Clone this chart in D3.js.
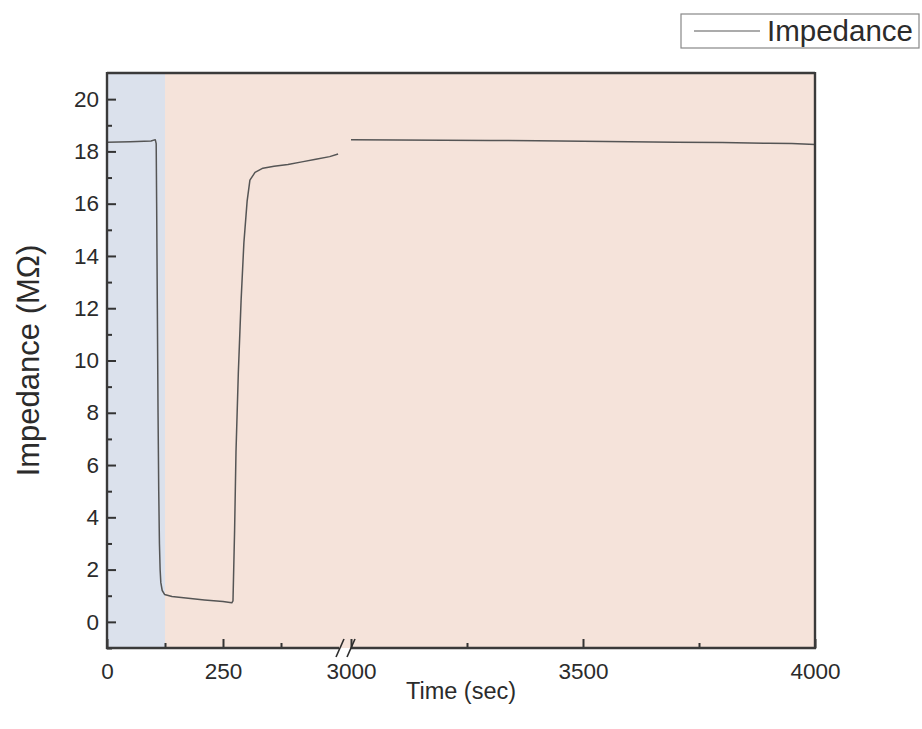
<!DOCTYPE html>
<html>
<head>
<meta charset="utf-8">
<script src="https://cdn.jsdelivr.net/npm/d3@7/dist/d3.min.js"></script>
<style>
  html, body { margin: 0; padding: 0; background: #fff; }
  svg text { font-family: "Liberation Sans", Arial, sans-serif; fill: #2b2b2b; }
</style>
</head>
<body>
<svg id="chart" width="922" height="729"></svg>
<script>
// Impedance over time; the time axis is broken between 500 s and 3000 s.
const earlyTime = [0, 50, 95, 104, 106, 107, 108.5, 110, 111.5, 113, 114.5, 116, 119, 124, 140, 175, 210, 250, 265, 269, 271.5, 275, 278, 283, 289, 295, 302, 308, 319, 336, 360, 390, 420, 450, 480, 498];
const earlyImpedance = [18.35, 18.37, 18.4, 18.45, 18.3, 16, 12, 8, 5, 3, 2, 1.5, 1.2, 1.05, 0.97, 0.9, 0.84, 0.78, 0.74, 0.73, 0.8, 3.5, 6.5, 9.5, 12.3, 14.5, 16.1, 16.9, 17.2, 17.36, 17.43, 17.5, 17.6, 17.7, 17.8, 17.9];
const lateTime = [3000, 3100, 3200, 3300, 3400, 3500, 3600, 3700, 3800, 3900, 3950, 4000];
const lateImpedance = [18.45, 18.44, 18.43, 18.42, 18.41, 18.39, 18.37, 18.35, 18.34, 18.31, 18.3, 18.26];

const segmentDomains = [[0, 500], [3000, 4000]];
const majorTicks = [[0, 250], [3000, 3500, 4000]];
const minorTicks = [[125, 375], [3250, 3750]];
const yMajorTicks = [0, 2, 4, 6, 8, 10, 12, 14, 16, 18, 20];
const yMinorTicks = [-1, 1, 3, 5, 7, 9, 11, 13, 15, 17, 19];
const phaseBoundary = 125;   // end of the first (blue) phase, seconds
const yDomain = [-1, 21];

const plotLeft = 107, plotRight = 815, plotTop = 73, plotBottom = 648;
const gapLeft = 339, gapRight = 351;

const svg = d3.select("#chart");

const xA = d3.scaleLinear().domain(segmentDomains[0]).range([plotLeft, gapLeft]);
const xB = d3.scaleLinear().domain(segmentDomains[1]).range([gapRight, plotRight]);
const xPos = t => (t <= segmentDomains[0][1] ? xA(t) : xB(t));
const y = d3.scaleLinear().domain(yDomain).range([plotBottom, plotTop]);

// phase backgrounds
svg.append("rect")
  .attr("x", xA(0)).attr("y", plotTop)
  .attr("width", xA(phaseBoundary) - xA(0)).attr("height", plotBottom - plotTop)
  .attr("fill", "#dbe1ec");
svg.append("rect")
  .attr("x", xA(phaseBoundary)).attr("y", plotTop)
  .attr("width", plotRight - xA(phaseBoundary)).attr("height", plotBottom - plotTop)
  .attr("fill", "#f5e3da");

// data, one path per axis segment
const early = earlyTime.map((t, i) => [t, earlyImpedance[i]]);
const late = lateTime.map((t, i) => [t, lateImpedance[i]]);
const line = d3.line().x(d => xPos(d[0])).y(d => y(d[1]));
[early, late].forEach(series => {
  svg.append("path").datum(series)
    .attr("d", line)
    .attr("fill", "none").attr("stroke", "#555").attr("stroke-width", 1.5)
    .attr("stroke-linejoin", "round");
});

// y axis (ticks pointing inward)
svg.append("g").attr("transform", `translate(${plotLeft},0)`)
  .call(d3.axisLeft(y).tickValues(yMajorTicks).tickSize(-9).tickPadding(8));
svg.append("g").attr("transform", `translate(${plotLeft},0)`)
  .call(d3.axisLeft(y).tickValues(yMinorTicks).tickSize(-5).tickFormat(""));

// x axis segments
[xA, xB].forEach((sc, i) => {
  svg.append("g").attr("transform", `translate(0,${plotBottom})`)
    .call(d3.axisBottom(sc).tickValues(majorTicks[i]).tickSize(-9).tickPadding(15).tickFormat(d3.format("d")));
  svg.append("g").attr("transform", `translate(0,${plotBottom})`)
    .call(d3.axisBottom(sc).tickValues(minorTicks[i]).tickSize(-5).tickFormat(""));
});

svg.selectAll(".domain").remove();
svg.selectAll(".tick line").attr("stroke", "#333").attr("stroke-width", 2);
svg.selectAll(".tick text").attr("font-size", 22.5).attr("fill", "#2b2b2b")
  .style("font-family", '"Liberation Sans", Arial, sans-serif');

// frame
const frame = svg.append("g").attr("stroke", "#3a3a3a").attr("stroke-width", 2.4).attr("fill", "none");
frame.append("line").attr("x1", plotLeft).attr("x2", plotLeft).attr("y1", plotTop - 1).attr("y2", plotBottom + 1);
frame.append("line").attr("x1", plotRight).attr("x2", plotRight).attr("y1", plotTop - 1).attr("y2", plotBottom + 1);
frame.append("line").attr("x1", plotLeft).attr("x2", plotRight).attr("y1", plotTop).attr("y2", plotTop);
frame.append("line").attr("x1", plotLeft - 1).attr("x2", gapLeft).attr("y1", plotBottom).attr("y2", plotBottom);
frame.append("line").attr("x1", gapRight).attr("x2", plotRight + 1).attr("y1", plotBottom).attr("y2", plotBottom);

// axis break marks
[gapLeft + 1, gapRight].forEach(cx => {
  svg.append("line")
    .attr("x1", cx - 4).attr("y1", plotBottom + 9).attr("x2", cx + 4).attr("y2", plotBottom - 9)
    .attr("stroke", "#2b2b2b").attr("stroke-width", 1.6);
});

// axis titles
svg.append("text").attr("x", (plotLeft + plotRight) / 2).attr("y", 699)
  .attr("text-anchor", "middle").attr("font-size", 23.5).text("Time (sec)");
svg.append("text").attr("transform", `translate(39,${(plotTop + plotBottom) / 2}) rotate(-90)`)
  .attr("text-anchor", "middle").attr("font-size", 31).text("Impedance (MΩ)");

// legend
const lg = svg.append("g");
lg.append("rect").attr("x", 681).attr("y", 14).attr("width", 238).attr("height", 34)
  .attr("fill", "#fff").attr("stroke", "#888").attr("stroke-width", 1.2);
lg.append("line").attr("x1", 694).attr("x2", 760).attr("y1", 31).attr("y2", 31)
  .attr("stroke", "#8f8f8f").attr("stroke-width", 1.5);
lg.append("text").attr("x", 767).attr("y", 41).attr("font-size", 29.5).text("Impedance");
</script>
</body>
</html>
